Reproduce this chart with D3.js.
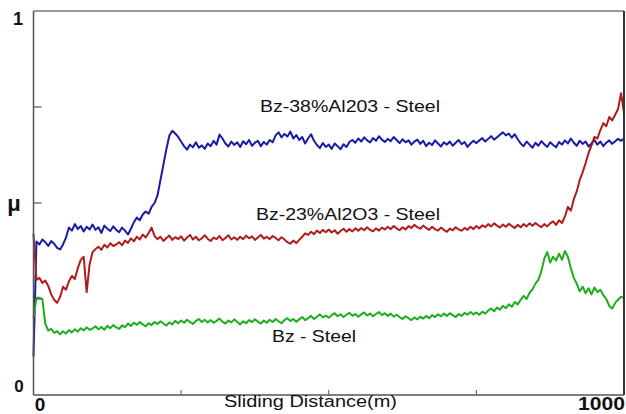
<!DOCTYPE html>
<html>
<head>
<meta charset="utf-8">
<script src="https://cdn.jsdelivr.net/npm/d3@7"></script>
<style>
  body { margin: 0; background: #fff; }
  text { font-family: "Liberation Sans", Arial, sans-serif; fill: #111; }
</style>
</head>
<body>
<svg id="chart" width="626" height="414"></svg>
<script>
/* global d3 */
// sliding distance step (m) of the sampled friction traces
var step = 5;

// friction coefficient, one value every 5 m from 0 to 1000 m
var bz38 = [
  0.10, 0.40, 0.392, 0.405, 0.398, 0.388, 0.401, 0.394, 0.383, 0.379,
  0.392, 0.41, 0.436, 0.428, 0.445, 0.432, 0.44, 0.426, 0.438, 0.431,
  0.444, 0.43, 0.437, 0.422, 0.441, 0.433, 0.427, 0.439, 0.43, 0.424,
  0.436, 0.428, 0.418, 0.433, 0.45, 0.462, 0.455, 0.47, 0.478, 0.472,
  0.49, 0.5, 0.52, 0.56, 0.6, 0.64, 0.675, 0.688, 0.681, 0.672,
  0.66, 0.648, 0.639, 0.652, 0.645, 0.658, 0.644, 0.65, 0.641, 0.655,
  0.648, 0.662, 0.652, 0.678, 0.668, 0.655, 0.647, 0.66, 0.651, 0.658,
  0.646, 0.661, 0.653, 0.664, 0.649, 0.657, 0.662, 0.648, 0.659, 0.652,
  0.664, 0.658, 0.676, 0.684, 0.671, 0.68, 0.673, 0.686, 0.668, 0.677,
  0.664, 0.672, 0.655, 0.668, 0.679, 0.662, 0.651, 0.643, 0.656, 0.646,
  0.652, 0.641, 0.655, 0.648, 0.64, 0.653, 0.646, 0.659, 0.664, 0.657,
  0.668, 0.66, 0.671, 0.663, 0.658, 0.669, 0.662, 0.674, 0.665, 0.659,
  0.667, 0.661, 0.672, 0.664, 0.656, 0.666, 0.658, 0.663, 0.652, 0.66,
  0.665, 0.654, 0.662, 0.648, 0.657, 0.651, 0.663, 0.655, 0.647, 0.658,
  0.652, 0.66, 0.649, 0.657, 0.664, 0.653, 0.659, 0.646, 0.655, 0.662,
  0.656, 0.663, 0.669, 0.66, 0.667, 0.674, 0.665, 0.671, 0.678, 0.684,
  0.676, 0.681, 0.67, 0.679, 0.666, 0.655, 0.648, 0.66, 0.652, 0.644,
  0.657, 0.649, 0.661, 0.653, 0.646, 0.658, 0.651, 0.645, 0.659, 0.652,
  0.663, 0.655, 0.668, 0.657, 0.649, 0.662, 0.654, 0.66, 0.647, 0.655,
  0.664, 0.652, 0.66, 0.648, 0.657, 0.663, 0.654, 0.661, 0.667, 0.662,
  0.668
];

var bz23 = [
  0.42, 0.30, 0.305, 0.292, 0.298, 0.284, 0.262, 0.248, 0.24, 0.255,
  0.282, 0.274, 0.296, 0.31, 0.302, 0.33, 0.352, 0.36, 0.268, 0.34,
  0.372, 0.38, 0.386, 0.378, 0.391, 0.384, 0.395, 0.388, 0.392, 0.398,
  0.39, 0.402, 0.396, 0.408, 0.4, 0.412, 0.405, 0.418, 0.41, 0.422,
  0.436, 0.414, 0.406, 0.412, 0.401, 0.409, 0.415, 0.404, 0.411, 0.406,
  0.413, 0.402, 0.41, 0.417, 0.405, 0.412, 0.403, 0.408, 0.416, 0.407,
  0.401, 0.41, 0.406, 0.414, 0.403, 0.409, 0.416, 0.405, 0.411, 0.404,
  0.412, 0.406, 0.415, 0.408, 0.413, 0.404, 0.41, 0.417, 0.407, 0.412,
  0.406, 0.414, 0.409, 0.403, 0.411, 0.405, 0.398, 0.394, 0.402, 0.396,
  0.404, 0.412, 0.421, 0.417, 0.425, 0.419, 0.428, 0.422, 0.43, 0.424,
  0.431, 0.423, 0.429, 0.42, 0.427, 0.433, 0.425, 0.432, 0.426, 0.434,
  0.428, 0.435, 0.429, 0.437, 0.43, 0.426, 0.434, 0.428, 0.436, 0.431,
  0.438, 0.432, 0.44, 0.434, 0.429, 0.437, 0.431, 0.44, 0.435, 0.443,
  0.437, 0.433, 0.441, 0.435, 0.43, 0.438, 0.432, 0.428, 0.436, 0.43,
  0.425, 0.433, 0.429, 0.437, 0.431, 0.428, 0.435, 0.43, 0.438, 0.432,
  0.44, 0.434, 0.442, 0.437, 0.445, 0.439, 0.447, 0.441, 0.436, 0.444,
  0.438, 0.446, 0.44, 0.435, 0.443, 0.437, 0.445, 0.439, 0.447, 0.441,
  0.448, 0.442, 0.437, 0.445, 0.439, 0.447, 0.452, 0.443, 0.455, 0.448,
  0.465, 0.49, 0.48, 0.51, 0.53, 0.56, 0.58, 0.604, 0.63, 0.65,
  0.672, 0.668, 0.69, 0.708, 0.70, 0.724, 0.715, 0.73, 0.745, 0.786,
  0.735
];

var bz = [
  0.20, 0.253, 0.253, 0.25, 0.185, 0.168, 0.172, 0.162, 0.166, 0.158,
  0.166, 0.16, 0.169, 0.163, 0.171, 0.165, 0.174, 0.168, 0.176, 0.17,
  0.173, 0.179, 0.171, 0.177, 0.17, 0.18, 0.174, 0.182, 0.176, 0.172,
  0.181, 0.177, 0.186, 0.18, 0.188, 0.183, 0.19, 0.184, 0.179, 0.187,
  0.182, 0.19, 0.185, 0.192, 0.186, 0.181, 0.189, 0.184, 0.193, 0.187,
  0.194, 0.188, 0.196, 0.19, 0.185, 0.193, 0.198, 0.19, 0.196, 0.189,
  0.195, 0.188, 0.193, 0.199, 0.191, 0.186, 0.194, 0.189, 0.197, 0.19,
  0.184, 0.192, 0.187, 0.195, 0.19, 0.197, 0.191, 0.186, 0.194, 0.188,
  0.196, 0.19, 0.198, 0.192, 0.187, 0.195, 0.2, 0.193, 0.198, 0.191,
  0.197, 0.203, 0.195, 0.2, 0.206, 0.198, 0.204, 0.21, 0.202, 0.207,
  0.201, 0.208, 0.213, 0.205, 0.21, 0.203, 0.209, 0.214, 0.206, 0.211,
  0.204, 0.21, 0.215, 0.207, 0.212, 0.205, 0.211, 0.216, 0.208, 0.213,
  0.206, 0.212, 0.204, 0.209, 0.203, 0.198, 0.205, 0.2, 0.195, 0.202,
  0.197, 0.204, 0.199, 0.206, 0.2, 0.208, 0.203, 0.21, 0.205, 0.212,
  0.206, 0.213, 0.208, 0.203, 0.211, 0.206, 0.214, 0.209, 0.216, 0.21,
  0.215, 0.209, 0.217, 0.212, 0.22, 0.225, 0.218, 0.228, 0.222, 0.232,
  0.226, 0.236, 0.23, 0.242, 0.236, 0.248, 0.258, 0.25, 0.266, 0.275,
  0.29, 0.3, 0.322, 0.355, 0.372, 0.345, 0.36, 0.35, 0.368, 0.352,
  0.375, 0.36, 0.33, 0.305, 0.29, 0.27, 0.282, 0.265, 0.278, 0.262,
  0.28, 0.268, 0.274, 0.26, 0.25, 0.232, 0.225, 0.24, 0.248, 0.256,
  0.252
];

var series = [
  { name: "Bz-38%Al203 - Steel", values: bz38, color: "#1a1aa8" },
  { name: "Bz-23%Al2O3 - Steel", values: bz23, color: "#b01c1c" },
  { name: "Bz - Steel", values: bz, color: "#1cae1c" }
];

var yTicks = [0.25, 0.5, 0.75];
var xTicks = [250, 500, 750];

var svg = d3.select("#chart"),
  x = d3.scaleLinear().domain([0, 1000]).range([33.5, 624]),
  y = d3.scaleLinear().domain([0, 1]).range([395, 11]);

var line = d3.line()
  .x(function (d, i) { return x(i * step); })
  .y(function (d) { return y(d); });

series.forEach(function (s) {
  svg.append("path")
    .attr("d", line(s.values))
    .attr("fill", "none")
    .attr("stroke", s.color)
    .attr("stroke-width", 2)
    .attr("stroke-linejoin", "round");
});

// frame
svg.append("line").attr("x1", x(0)).attr("x2", x(1000)).attr("y1", y(1)).attr("y2", y(1))
  .attr("stroke", "#777").attr("stroke-width", 1.5);
svg.append("line").attr("x1", x(1000)).attr("x2", x(1000)).attr("y1", y(1)).attr("y2", y(0))
  .attr("stroke", "#333").attr("stroke-width", 2);
svg.append("line").attr("x1", x(0)).attr("x2", x(0)).attr("y1", y(1)).attr("y2", y(0))
  .attr("stroke", "#555").attr("stroke-width", 1.5);
svg.append("line").attr("x1", x(0)).attr("x2", x(1000)).attr("y1", y(0)).attr("y2", y(0))
  .attr("stroke", "#555").attr("stroke-width", 1.5);

yTicks.forEach(function (t) {
  svg.append("line").attr("x1", x(0)).attr("x2", x(0) + 8).attr("y1", y(t)).attr("y2", y(t))
    .attr("stroke", "#555").attr("stroke-width", 1.2);
});
xTicks.forEach(function (t) {
  svg.append("line").attr("x1", x(t)).attr("x2", x(t)).attr("y1", y(0)).attr("y2", y(0) - 5)
    .attr("stroke", "#555").attr("stroke-width", 1);
});

// axis labels
svg.append("text").attr("x", 18).attr("y", 25).attr("text-anchor", "middle")
  .style("font-size", "18px").style("font-weight", "bold").text("1");
svg.append("text").attr("x", 19).attr("y", 392).attr("text-anchor", "middle")
  .style("font-size", "17px").style("font-weight", "bold").text("0");
svg.append("text").attr("x", 14).attr("y", y(0.5) + 8).attr("text-anchor", "middle")
  .style("font-size", "22px").style("font-weight", "bold").text("μ");
svg.append("text").attr("x", 40).attr("y", 411).attr("text-anchor", "middle")
  .style("font-size", "19px").style("font-weight", "bold").text("0");
svg.append("text").attr("x", 578).attr("y", 410)
  .attr("textLength", 47).attr("lengthAdjust", "spacingAndGlyphs")
  .style("font-size", "18px").style("font-weight", "bold").text("1000");
svg.append("text").attr("x", 224).attr("y", 407)
  .attr("textLength", 173).attr("lengthAdjust", "spacingAndGlyphs")
  .style("font-size", "16px").text("Sliding Distance(m)");

// series captions
var capWidths = [180, 184, 84];
var capStart = [260, 256, 272];
var capBase = [112, 220, 342];
series.forEach(function (s, i) {
  svg.append("text")
    .attr("x", capStart[i])
    .attr("y", capBase[i])
    .attr("textLength", capWidths[i]).attr("lengthAdjust", "spacingAndGlyphs")
    .style("font-size", "17px")
    .text(s.name);
});
</script>
</body>
</html>
